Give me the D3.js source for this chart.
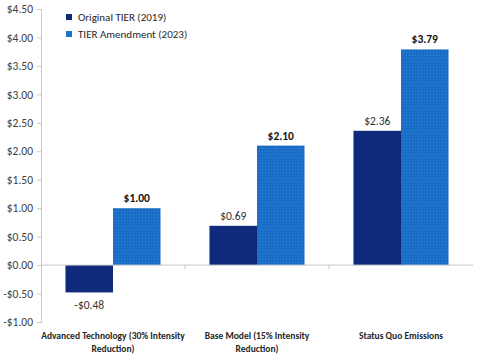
<!DOCTYPE html>
<html>
<head>
<meta charset="utf-8">
<script src="https://cdn.jsdelivr.net/npm/d3@7"></script>
<style>
  body { margin: 0; background: #fff; }
  svg text { font-family: Carlito, Lato, "Liberation Sans", sans-serif; }
</style>
</head>
<body>
<script>
const categories = [
  ["Advanced Technology (30% Intensity", "Reduction)"],
  ["Base Model (15% Intensity", "Reduction)"],
  ["Status Quo Emissions"]
];
const seriesNames = ["Original TIER (2019)", "TIER Amendment (2023)"];
const original = [-0.48, 0.69, 2.36];
const amendment = [1.00, 2.10, 3.79];
const yTicks = [-1, -0.5, 0, 0.5, 1, 1.5, 2, 2.5, 3, 3.5, 4, 4.5];

var width = 480, height = 360;
var plotLeft = 41, plotRight = 473, plotTop = 9, plotBottom = 322;

var svg = d3.select("body").append("svg")
    .attr("width", width).attr("height", height);

var defs = svg.append("defs");
var pat = defs.append("pattern")
    .attr("id", "dots").attr("patternUnits", "userSpaceOnUse")
    .attr("width", 3).attr("height", 3);
pat.append("rect").attr("width", 3).attr("height", 3).attr("fill", "#1a6dc6");
pat.append("circle").attr("cx", 1.5).attr("cy", 1.5).attr("r", 0.6).attr("fill", "#3386d8");

var colors = ["#0f2a7a", "url(#dots)"];
var legendColors = ["#0f2a7a", "#1a73c9"];

var x = d3.scaleBand().domain(d3.range(categories.length))
    .range([plotLeft, plotRight]).paddingInner(0).paddingOuter(0);
var x1 = d3.scaleBand().domain([0, 1])
    .range([0, x.bandwidth()]).paddingOuter(0.515).paddingInner(0);
var y = d3.scaleLinear().domain([-1, 4.5]).range([plotBottom, plotTop]);

var fmt = function(v) { return (v < 0 ? "-$" : "$") + Math.abs(v).toFixed(2); };

// y axis
var yAxis = d3.axisLeft(y).tickValues(yTicks).tickSize(4).tickFormat(fmt);
var gy = svg.append("g").attr("transform", "translate(" + plotLeft + ",0)").call(yAxis);
gy.select(".domain").attr("stroke", "#c8c8c8");
gy.selectAll(".tick line").attr("stroke", "#c8c8c8");
gy.selectAll(".tick text").attr("fill", "#404040").attr("font-size", 11.5).attr("x", -8);

// bars
var series = [original, amendment];
series.forEach(function(vals, s) {
  svg.append("g").selectAll("rect").data(vals).enter().append("rect")
    .attr("x", function(d, i) { return x(i) + x1(s); })
    .attr("width", x1.bandwidth())
    .attr("y", function(d) { return y(Math.max(0, d)); })
    .attr("height", function(d) { return Math.abs(y(d) - y(0)); })
    .attr("fill", colors[s]);
  svg.append("g").selectAll("text").data(vals).enter().append("text")
    .attr("x", function(d, i) { return x(i) + x1(s) + x1.bandwidth() / 2; })
    .attr("y", function(d) { return d < 0 ? y(d) + 17 : y(d) - 6; })
    .attr("text-anchor", "middle")
    .attr("font-size", 11.5)
    .attr("font-weight", s == 1 ? "bold" : "normal")
    .attr("fill", s == 1 ? "#111" : "#333")
    .text(fmt);
});

// x axis at zero
svg.append("line").attr("x1", plotLeft).attr("x2", plotRight)
    .attr("y1", y(0)).attr("y2", y(0)).attr("stroke", "#c8c8c8");
svg.append("g").selectAll("line").data(d3.range(1, categories.length)).enter().append("line")
    .attr("x1", function(d) { return x(d); }).attr("x2", function(d) { return x(d); })
    .attr("y1", y(0)).attr("y2", y(0) + 4).attr("stroke", "#c8c8c8");

// category labels
var cl = svg.append("g").selectAll("text").data(categories).enter().append("text")
    .attr("text-anchor", "middle").attr("font-size", 9.5).attr("font-weight", "bold")
    .attr("fill", "#262626")
    .attr("transform", function(d, i) { return "translate(" + (x(i) + x.bandwidth() / 2) + ",339)"; });
cl.selectAll("tspan").data(function(d) { return d; }).enter().append("tspan")
    .attr("x", 0).attr("dy", function(d, i) { return i == 0 ? 0 : 12.5; })
    .text(function(d) { return d; });

// legend
var lg = svg.append("g").selectAll("g").data(seriesNames).enter().append("g")
    .attr("transform", function(d, i) { return "translate(66," + (17 + i * 17) + ")"; });
lg.append("rect").attr("x", 0).attr("y", -3).attr("width", 6).attr("height", 6)
    .attr("fill", function(d, i) { return legendColors[i]; });
lg.append("text").attr("x", 12).attr("y", 4).attr("font-size", 11)
    .attr("fill", "#262626").text(function(d) { return d; });
</script>
</body>
</html>
